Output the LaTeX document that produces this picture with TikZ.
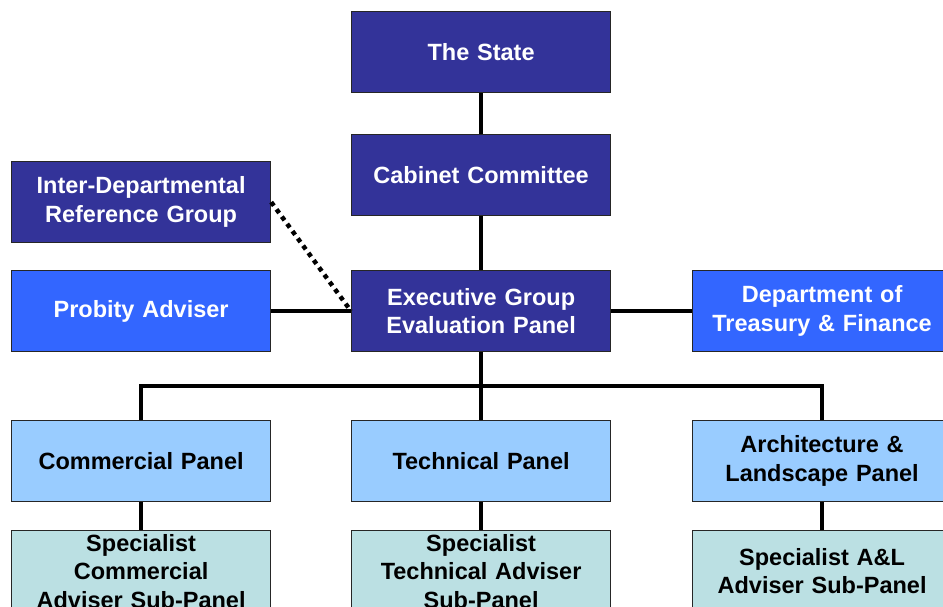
\documentclass[tikz,border=0pt]{standalone}
\usepackage{fontspec}
\setmainfont{Liberation Sans}
\definecolor{navy}{HTML}{333399}
\definecolor{bright}{HTML}{3366FF}
\definecolor{lightb}{HTML}{99CCFF}
\definecolor{teal2}{HTML}{BBE0E3}
\begin{document}
\begin{tikzpicture}[x=1pt,y=-1pt,
  font=\bfseries\fontsize{23.5}{28.5}\selectfont,
  box/.style={draw=black!85, line width=1.2pt, minimum width=259pt, minimum height=81pt,
    text width=250pt, align=center, inner sep=0pt, anchor=north west},
  darkbox/.style={box, fill=navy, text=white},
  brightbox/.style={box, fill=bright, text=white},
  panelbox/.style={box, fill=lightb, text=black},
  subbox/.style={box, fill=teal2, text=black},
  conn/.style={line width=4pt, black},
  dotconn/.style={line width=4.5pt, black, dash pattern=on 4.5pt off 4.5pt}]
\useasboundingbox (0,0) rectangle (943,607);
\clip (0,0) rectangle (943,607);
\node[darkbox] (state) at (351,11) {The State};
\node[darkbox] (cab) at (351,134) {Cabinet Committee};
\node[darkbox] (inter) at (11,161) {Inter-Departmental\\Reference Group};
\node[brightbox] (prob) at (11,270) {Probity Adviser};
\node[darkbox] (exec) at (351,270) {Executive Group\\Evaluation Panel};
\node[brightbox] (treas) at (692,270) {Department of\\Treasury \& Finance};
\node[panelbox] (comm) at (11,420) {Commercial Panel};
\node[panelbox] (tech) at (351,420) {Technical Panel};
\node[panelbox] (arch) at (692,420) {Architecture \&\\Landscape Panel};
\node[subbox] (scomm) at (11,530) {Specialist\\Commercial\\Adviser Sub-Panel};
\node[subbox] (stech) at (351,530) {Specialist\\Technical Adviser\\Sub-Panel};
\node[subbox] (sarch) at (692,530) {Specialist A\&L\\Adviser Sub-Panel};
\coordinate (bus) at (481,386);
\draw[conn] (state) -- (cab);
\draw[conn] (cab) -- (exec);
\draw[conn] (prob) -- (exec);
\draw[conn] (exec) -- (treas);
\draw[conn] (exec.south) -- (exec.south |- bus);
\draw[conn] (comm.north) -- (comm.north |- bus) -- (arch.north |- bus) -- (arch.north);
\draw[conn] (tech.north) -- (tech.north |- bus);
\draw[conn] (comm) -- (scomm);
\draw[conn] (tech) -- (stech);
\draw[conn] (arch) -- (sarch);
\draw[dotconn] (inter.east) -- (exec.west);
\end{tikzpicture}
\end{document}
